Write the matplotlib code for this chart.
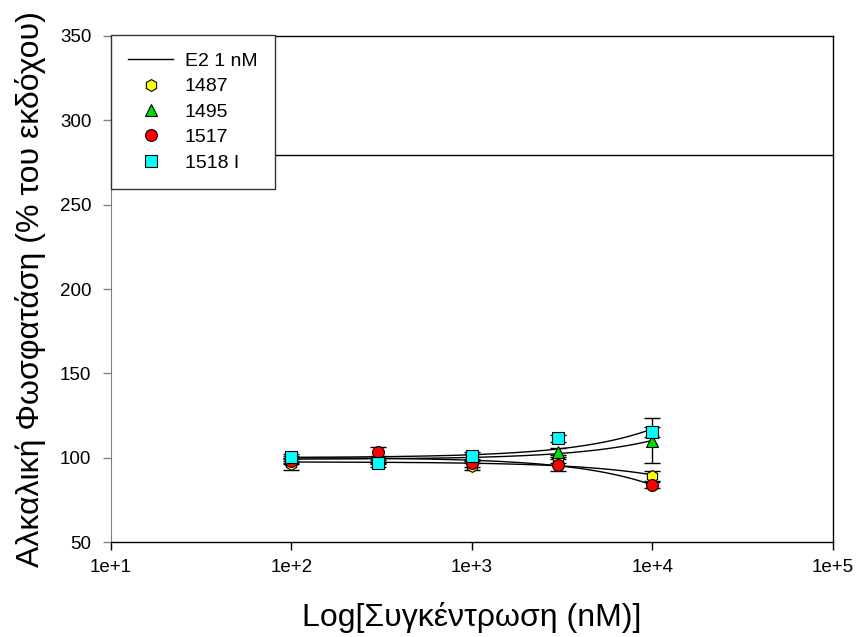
#!/usr/bin/env python3
"""Alkaline phosphatase response vs concentration for four compounds."""

import matplotlib

matplotlib.use("Agg")
import matplotlib.pyplot as plt
import numpy as np
from matplotlib.lines import Line2D

conc = [100, 300, 1000, 3000, 10000]

series_names = ["1487", "1495", "1517", "1518 I"]
vals_1487 = [96.0, 98.0, 95.0, 98.6, 89.0]
vals_1495 = [99.0, 99.0, 100.0, 103.5, 110.0]
vals_1517 = [98.0, 103.2, 96.6, 95.6, 83.8]
vals_1518 = [100.2, 96.6, 101.2, 111.5, 115.4]
err_1487 = [3.5, 2.0, 2.0, 2.0, 3.0]
err_1495 = [2.0, 2.0, 2.0, 2.0, 13.4]
err_1517 = [2.0, 3.3, 2.0, 3.5, 2.0]
err_1518 = [2.0, 2.0, 2.0, 2.0, 3.0]

e2_level = 279.4

plt.rcParams.update({
    "font.family": ["Liberation Sans", "DejaVu Sans"],
})

fig = plt.figure(figsize=(8.6, 6.37), dpi=100)
ax = fig.add_axes([0.129, 0.149, 0.8395, 0.7945])

ax.set_xscale("log")
ax.set_xlim(10, 1e5)
ax.set_ylim(50, 350)

ax.axhline(e2_level, color="black", linewidth=1.0, zorder=1)

styles = [
    ("h", "#ffff00", vals_1487, err_1487),
    ("^", "#00dd00", vals_1495, err_1495),
    ("o", "#ff0000", vals_1517, err_1517),
    ("s", "#00ffff", vals_1518, err_1518),
]

x = np.array(conc, dtype=float)
xs = np.geomspace(x.min(), x.max(), 300)
for marker, color, vals, errs in styles:
    # linear regression in concentration, drawn on the log axis
    slope, intercept = np.polyfit(x, np.array(vals), 1)
    ax.plot(xs, intercept + slope * xs, color="black", linewidth=1.0, zorder=2)

for marker, color, vals, errs in styles:
    ax.errorbar(conc, vals, yerr=errs, fmt="none", ecolor="black",
                elinewidth=1.0, capsize=5.5, capthick=1.0, zorder=3)
    ax.plot(conc, vals, linestyle="none", marker=marker, markersize=8.5,
            markerfacecolor=color, markeredgecolor="black",
            markeredgewidth=0.8, zorder=4)

ax.set_xticks([1e1, 1e2, 1e3, 1e4, 1e5])
ax.set_xticklabels(["1e+1", "1e+2", "1e+3", "1e+4", "1e+5"])
ax.xaxis.set_minor_locator(matplotlib.ticker.NullLocator())
ax.set_yticks(np.arange(50, 351, 50))
ax.tick_params(axis="x", direction="out", length=6, width=1.0, labelsize=13.5, pad=6)
ax.tick_params(axis="y", direction="out", length=6, width=1.0, labelsize=13.5,
               color="#808080", pad=8)
ax.spines["left"].set_color("#808080")
for side in ("top", "right", "bottom"):
    ax.spines[side].set_color("black")
    ax.spines[side].set_linewidth(1.0)

ax.set_xlabel("Log[Συγκέντρωση (nM)]", fontsize=23, labelpad=19)
ax.set_ylabel("Αλκαλική Φωσφατάση (% του εκδόχου)", fontsize=23, labelpad=10)

handles = [Line2D([], [], color="black", linewidth=1.0)]
labels = ["E2 1 nM"]
for (marker, color, _, _), name in zip(styles, series_names):
    handles.append(Line2D([], [], linestyle="none", marker=marker, markersize=8.5,
                          markerfacecolor=color, markeredgecolor="black",
                          markeredgewidth=0.8))
    labels.append(name)

leg = ax.legend(handles, labels, loc="upper left", bbox_to_anchor=(0.0, 1.002),
                borderaxespad=0, frameon=True, fancybox=False, framealpha=1.0,
                fontsize=14, handlelength=2.3, handletextpad=0.6, borderpad=0.9,
                labelspacing=0.4)
leg.get_frame().set_edgecolor("#333333")
leg.get_frame().set_linewidth(1.0)

fig.savefig("out.png", dpi=100)
